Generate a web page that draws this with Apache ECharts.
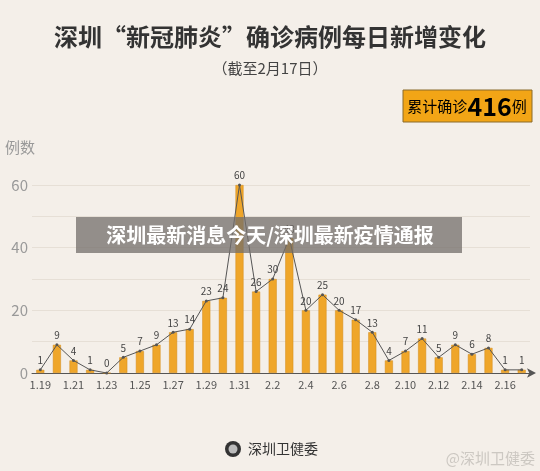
<!DOCTYPE html>
<html>
<head>
<meta charset="utf-8">
<script src="https://cdn.jsdelivr.net/npm/echarts@6/dist/echarts.min.js"></script>
<style>
html,body{margin:0;padding:0;background:#F4EFE9;}
#chart{width:540px;height:471px;}
</style>
</head>
<body>
<div id="chart"></div>
<script>
// daily new confirmed cases, 1.19 - 2.17
var dates=['1.19','1.20','1.21','1.22','1.23','1.24','1.25','1.26','1.27','1.28','1.29','1.30','1.31',
    '2.1','2.2','2.3','2.4','2.5','2.6','2.7','2.8','2.9','2.10','2.11','2.12','2.13','2.14','2.15','2.16','2.17'];
var cases=[1,9,4,1,0,5,7,9,13,14,23,24,60,26,30,43,20,25,20,17,13,4,7,11,5,9,6,8,1,1];
var yTicks=[0,20,40,60];
var total=416;

var font='"Noto Sans CJK SC", sans-serif';
var chart=echarts.init(document.getElementById('chart'));
var option={
    backgroundColor:'#F4EFE9',
    textStyle:{fontFamily:font},
    title:[{
        text:'深圳“新冠肺炎”确诊病例每日新增变化',
        left:'center',top:20,
        textStyle:{fontSize:24,fontWeight:'bold',color:'#333',fontFamily:font}
    },{
        text:'（截至2月17日）',
        left:'center',top:56,
        textStyle:{fontSize:15,fontWeight:'normal',color:'#444',fontFamily:font}
    }],
    grid:{left:32,right:10,top:185,bottom:98},
    xAxis:{
        type:'category',
        data:dates,
        axisLine:{lineStyle:{color:'#555',width:1},symbol:['none','arrow'],symbolSize:[7,9],symbolOffset:[0,6]},
        axisTick:{show:false},
        axisLabel:{interval:1,color:'#555',fontSize:11,margin:6,fontFamily:font}
    },
    yAxis:{
        type:'value',
        name:'例数',
        nameLocation:'end',
        nameGap:30,
        nameTextStyle:{color:'#999',fontSize:15,align:'right',padding:[0,-3,0,0]},
        min:0,max:60,interval:10,
        axisLine:{show:false},
        axisTick:{show:false},
        axisLabel:{
            color:'#999',fontSize:15,margin:4,
            formatter:function(v){return yTicks.indexOf(v)>=0?String(v):'';}
        },
        splitLine:{lineStyle:{color:'#E6DFD6',width:1}}
    },
    series:[{
        type:'bar',
        data:cases,
        barWidth:8,
        itemStyle:{color:'#EFA62A',borderColor:'#D28B18',borderWidth:0.5},
        z:2
    },{
        type:'line',
        data:cases,
        symbol:'circle',
        symbolSize:3,
        lineStyle:{color:'#555',width:1},
        itemStyle:{color:'#555'},
        label:{show:true,position:'top',fontSize:10,color:'#444',distance:3,fontFamily:font},
        z:3
    }],
    graphic:[{
        type:'rect',
        shape:{x:403,y:90,width:129,height:32},
        style:{fill:'#F2A516',stroke:'#8a6a2a',lineWidth:1}
    },{
        type:'text',
        style:{
            x:467,y:106,align:'center',verticalAlign:'middle',
            rich:{
                a:{fontSize:15,color:'#5a4622',fontFamily:font},
                b:{fontSize:25,fontWeight:'bold',color:'#5a4622',fontFamily:font}
            },
            text:'{a|累计确诊}{b|'+total+'}{a|例}'
        }
    },{
        type:'rect',
        shape:{x:76,y:217,width:386,height:36},
        style:{fill:'rgba(115,110,105,0.75)'},
        z:100
    },{
        type:'text',
        style:{x:270,y:235,align:'center',verticalAlign:'middle',
            text:'深圳最新消息今天/深圳最新疫情通报',
            fill:'#fff',fontSize:20,fontWeight:'bold',fontFamily:font},
        z:101
    },{
        type:'circle',
        shape:{cx:233,cy:449,r:8},
        style:{fill:'#333'}
    },{
        type:'circle',
        shape:{cx:233,cy:449,r:4.5},
        style:{fill:'#bbb'}
    },{
        type:'text',
        style:{x:248,y:449,verticalAlign:'middle',text:'深圳卫健委',fill:'#333',fontSize:14,fontFamily:font}
    },{
        type:'text',
        style:{x:535,y:458,align:'right',verticalAlign:'middle',text:'@深圳卫健委',fill:'rgba(200,195,190,0.9)',fontSize:15,fontFamily:font}
    }]
};
chart.setOption(option);
</script>
</body>
</html>
